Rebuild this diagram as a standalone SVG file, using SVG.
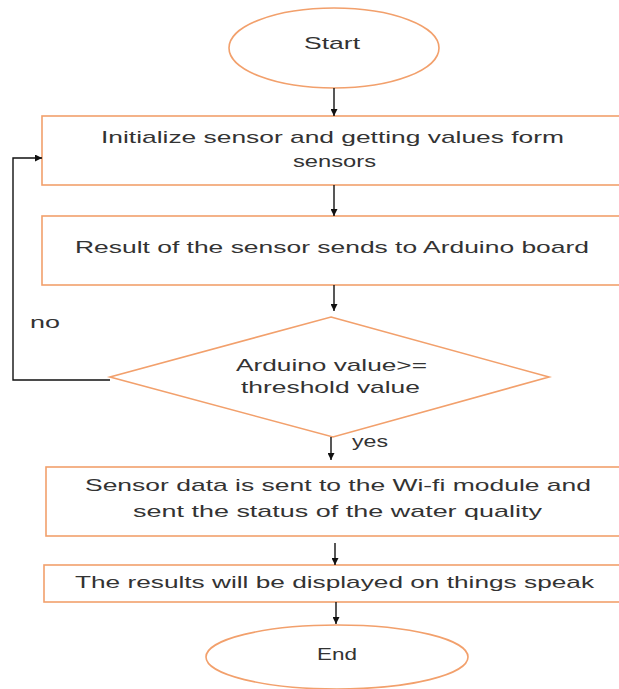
<svg xmlns="http://www.w3.org/2000/svg" width="619" height="689" viewBox="0 0 619 689">
<style>
.shape{fill:#fff;stroke:#F2A06C;stroke-width:1.6}
.t{font-family:"Liberation Sans",Arial,sans-serif;font-size:17px;fill:#333;text-anchor:start}
.c{fill:none;stroke:#111;stroke-width:1.4}
</style>
<defs>
<marker id="ah" viewBox="0 0 10 10" refX="10" refY="5" markerWidth="7" markerHeight="7" markerUnits="userSpaceOnUse" orient="auto">
<path d="M0,0 L10,5 L0,10 z" fill="#111"/>
</marker>
</defs>
<rect width="619" height="689" fill="#fff"/>
<g id="start">
<ellipse class="shape" cx="334" cy="48" rx="105" ry="40"/>
<text class="t" x="304" y="49" textLength="56" lengthAdjust="spacingAndGlyphs">Start</text>
</g>
<g id="init">
<rect class="shape" x="42" y="116" width="590" height="69"/>
<text class="t" x="101" y="143" textLength="463" lengthAdjust="spacingAndGlyphs">Initialize sensor and getting values form</text>
<text class="t" x="293" y="167" textLength="83" lengthAdjust="spacingAndGlyphs">sensors</text>
</g>
<g id="result">
<rect class="shape" x="42" y="216" width="590" height="69"/>
<text class="t" x="75" y="253" textLength="514" lengthAdjust="spacingAndGlyphs">Result of the sensor sends to Arduino board</text>
</g>
<g id="decision">
<polygon class="shape" points="331,317 549,377 333,437 110,377"/>
<text class="t" x="236" y="371" textLength="191" lengthAdjust="spacingAndGlyphs">Arduino value&gt;=</text>
<text class="t" x="241" y="393" textLength="179" lengthAdjust="spacingAndGlyphs">threshold value</text>
</g>
<g id="wifi">
<rect class="shape" x="46" y="467" width="590" height="69"/>
<text class="t" x="85" y="491" textLength="506" lengthAdjust="spacingAndGlyphs">Sensor data is sent to the Wi-fi module and</text>
<text class="t" x="133" y="517" textLength="409" lengthAdjust="spacingAndGlyphs">sent the status of the water quality</text>
</g>
<g id="display">
<rect class="shape" x="44" y="565" width="590" height="37"/>
<text class="t" x="75" y="588" textLength="519" lengthAdjust="spacingAndGlyphs">The results will be displayed on things speak</text>
</g>
<g id="end">
<ellipse class="shape" cx="337" cy="657" rx="131" ry="32"/>
<text class="t" x="317" y="660" textLength="40" lengthAdjust="spacingAndGlyphs">End</text>
</g>
<g id="connectors">
<line class="c" x1="334" y1="88" x2="334" y2="116" marker-end="url(#ah)"/>
<line class="c" x1="334" y1="185" x2="334" y2="216" marker-end="url(#ah)"/>
<line class="c" x1="334" y1="285" x2="334" y2="311" marker-end="url(#ah)"/>
<line class="c" x1="331" y1="437" x2="331" y2="460" marker-end="url(#ah)"/>
<line class="c" x1="335" y1="543" x2="335" y2="565" marker-end="url(#ah)"/>
<line class="c" x1="336" y1="602" x2="336" y2="624" marker-end="url(#ah)"/>
<polyline class="c" points="110,380 13,380 13,158 42,158" marker-end="url(#ah)"/>
<text class="t" x="30" y="328" textLength="30" lengthAdjust="spacingAndGlyphs">no</text>
<text class="t" x="352" y="447" textLength="36" lengthAdjust="spacingAndGlyphs">yes</text>
</g>
</svg>
